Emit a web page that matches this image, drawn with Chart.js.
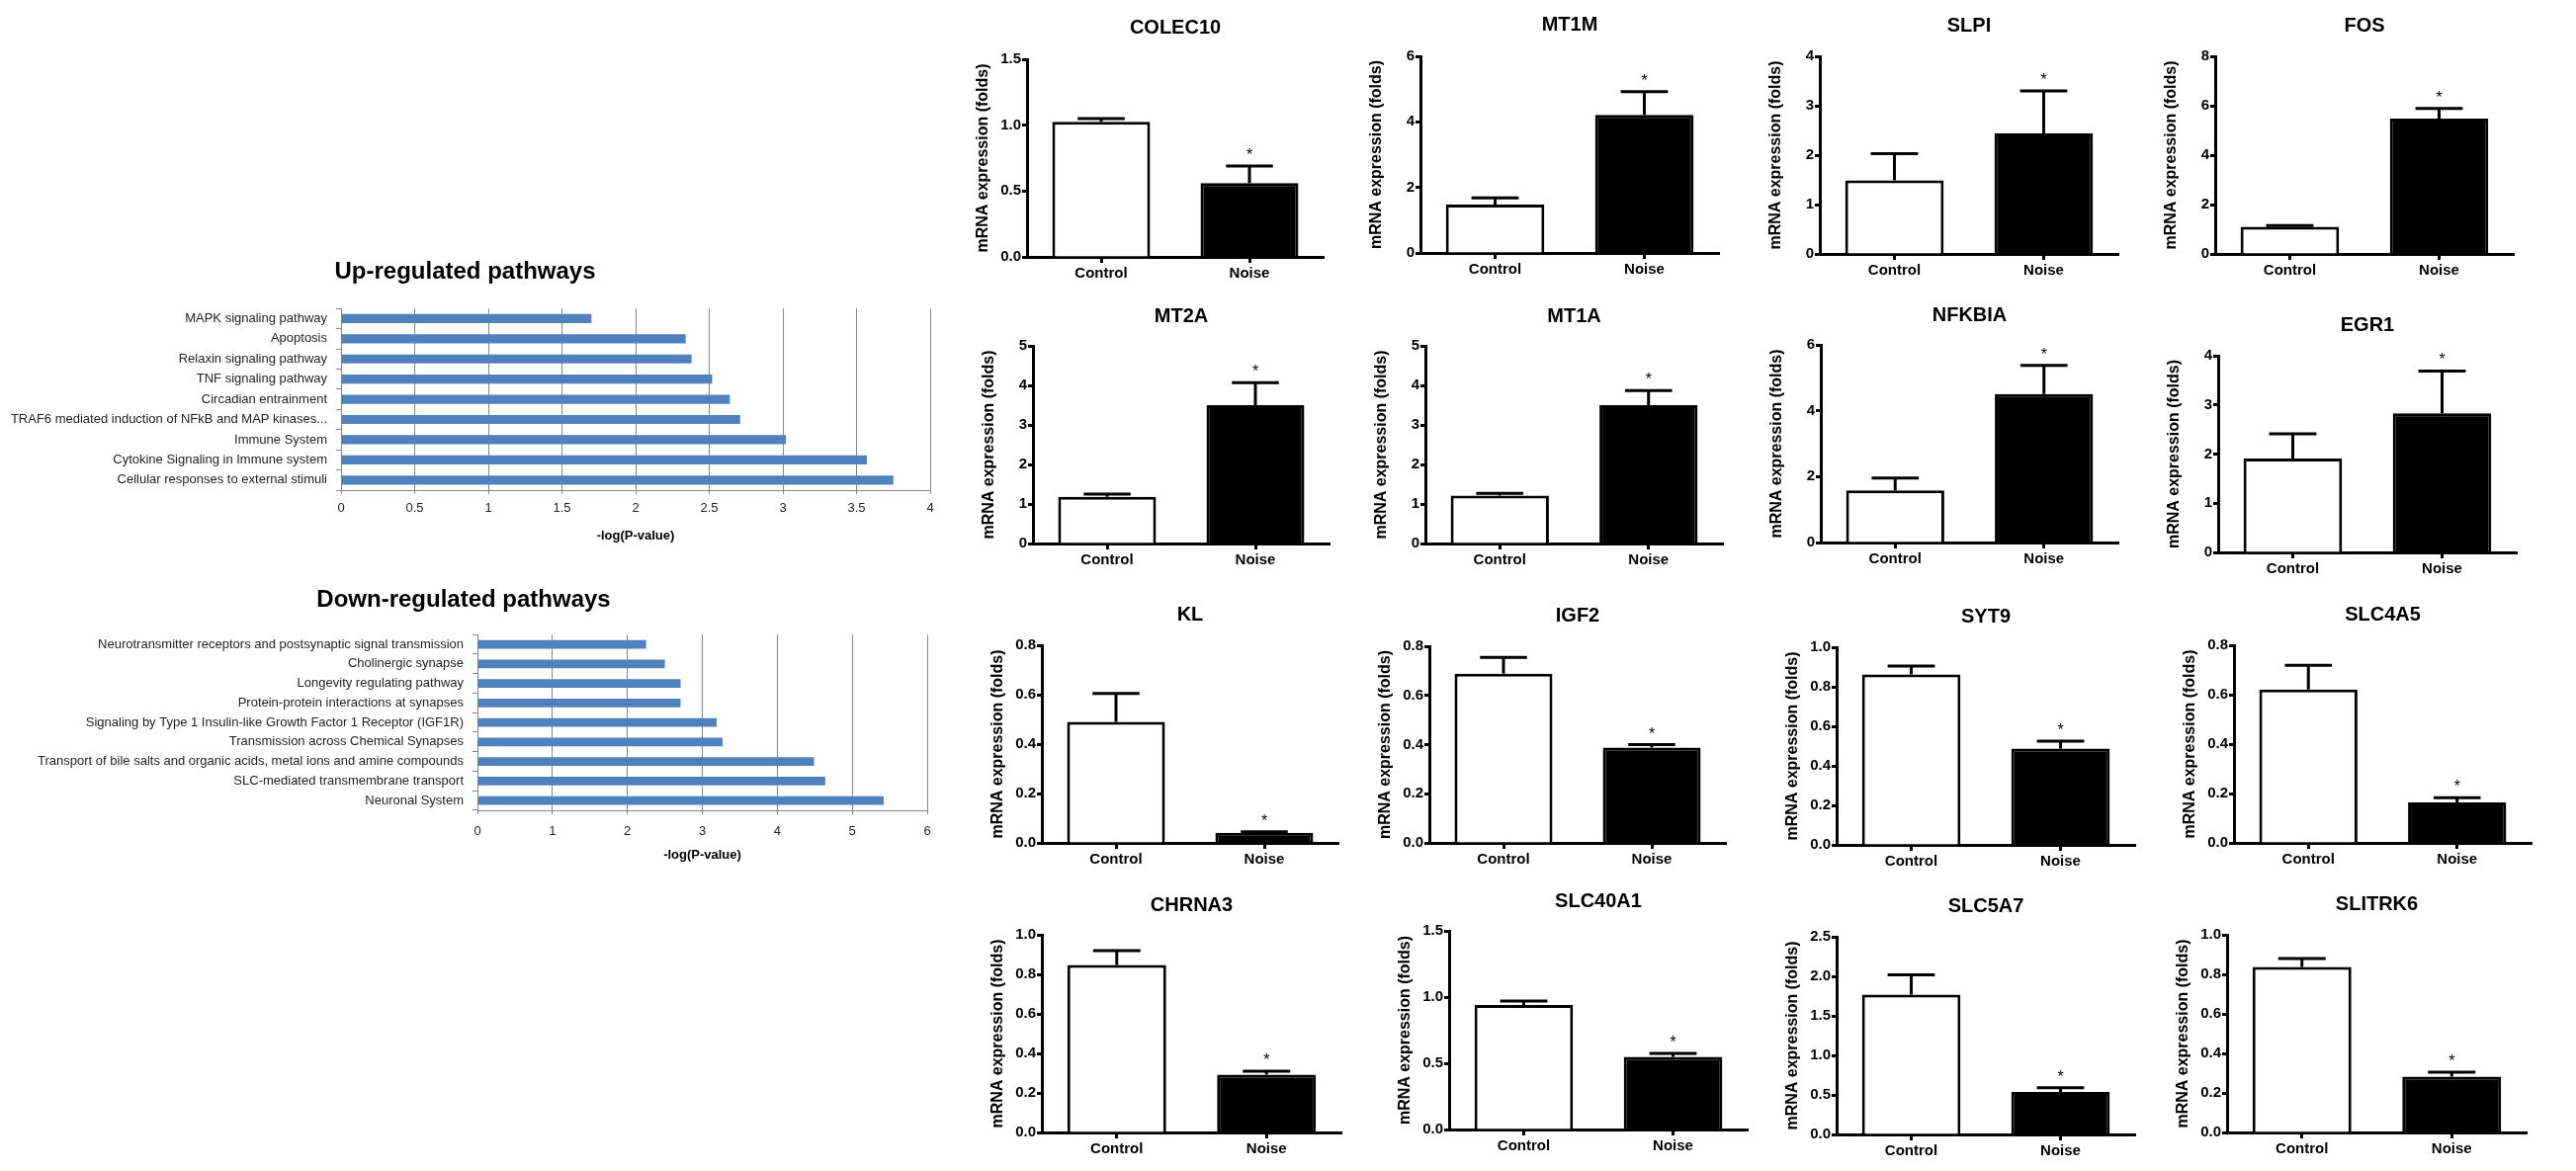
<!DOCTYPE html>
<html><head><meta charset="utf-8">
<script src="https://cdn.jsdelivr.net/npm/chart.js@4.4.0/dist/chart.umd.min.js"></script>
<style>
html,body{margin:0;padding:0;background:#fff;width:2606px;height:1185px;overflow:hidden;}
body{position:relative}
canvas{position:absolute}
</style></head><body>
<script>
// ===== Pathway enrichment data =====
const upPathways = ['MAPK signaling pathway','Apoptosis','Relaxin signaling pathway','TNF signaling pathway','Circadian entrainment','TRAF6 mediated induction of NFkB and MAP kinases...','Immune System','Cytokine Signaling in Immune system','Cellular responses to external stimuli'];
const upValues = [1.70, 2.34, 2.38, 2.52, 2.64, 2.71, 3.02, 3.57, 3.75];
const downPathways = ['Neurotransmitter receptors and postsynaptic signal transmission','Cholinergic synapse','Longevity regulating pathway','Protein-protein interactions at synapses','Signaling by Type 1 Insulin-like Growth Factor 1 Receptor (IGF1R)','Transmission across Chemical Synapses','Transport of bile salts and organic acids, metal ions and amine compounds','SLC-mediated transmembrane transport','Neuronal System'];
const downValues = [2.25, 2.50, 2.71, 2.71, 3.19, 3.27, 4.49, 4.64, 5.42];
const pathwayTitles = ['Up-regulated pathways', 'Down-regulated pathways'];
const pathwayAxisTitle = '-log(P-value)';
const pathwayAxisMax = [4, 6];
const pathwayAxisStep = [0.5, 1];

// ===== qPCR data =====
const groups = ['Control', 'Noise'];
const genes = ['COLEC10','MT1M','SLPI','FOS','MT2A','MT1A','NFKBIA','EGR1','KL','IGF2','SYT9','SLC4A5','CHRNA3','SLC40A1','SLC5A7','SLITRK6'];
const controlMean = [1.025, 1.48, 1.49, 1.10, 1.18, 1.21, 1.58, 1.91, 0.490, 0.688, 0.863, 0.621, 0.848, 0.940, 1.77, 0.838];
const controlSEM  = [0.025, 0.20, 0.54, 0.05, 0.07, 0.06, 0.38, 0.50, 0.115, 0.067, 0.042, 0.098, 0.072, 0.030, 0.25, 0.042];
const noiseMean   = [0.56, 4.21, 2.44, 5.48, 3.50, 3.50, 4.51, 2.83, 0.041, 0.388, 0.488, 0.164, 0.292, 0.549, 0.536, 0.282];
const noiseSEM    = [0.13, 0.71, 0.86, 0.41, 0.57, 0.37, 0.87, 0.86, 0.004, 0.012, 0.037, 0.019, 0.018, 0.025, 0.054, 0.023];
const noiseMark = '*';
const yAxisMax   = [1.5, 6, 4, 8, 5, 5, 6, 4, 0.8, 0.8, 1.0, 0.8, 1.0, 1.5, 2.5, 1.0];
const yAxisStep  = [0.5, 2, 1, 2, 1, 1, 2, 1, 0.2, 0.2, 0.2, 0.2, 0.2, 0.5, 0.5, 0.2];
const yAxisDecimals = [1, 0, 0, 0, 0, 0, 0, 0, 1, 1, 1, 1, 1, 1, 1, 1];
const yAxisTitle = 'mRNA expression (folds)';

// ===== Layout (positions only) : [yAxisX, plotTop, plotBottom, plotRight, titleY] =====
const panelLayout = [
  [1039, 60, 260, 1339, 28], [1437, 57, 256, 1739, 25], [1841, 57, 257, 2143, 26], [2241, 57, 257, 2543, 26],
  [1045, 350, 550, 1345, 320], [1442, 350, 550, 1743, 320], [1842, 349, 549, 2143, 319], [2244, 360, 559, 2546, 329],
  [1054, 653, 853, 1354, 622], [1446, 654, 853, 1746, 623], [1858, 655, 855, 2160, 624], [2260, 653, 853, 2561, 622],
  [1054, 946, 1146, 1357, 916], [1466, 942, 1143, 1768, 912], [1858, 948, 1148, 2160, 917], [2253, 946, 1146, 2556, 915]
];
// pathway charts: [canvasLeft, canvasTop, width, height, yAxisWidth, xAxisHeight, padRight, titlePadTop, titlePadBottom, tickPad]
const pathwayLayout = [
  [0, 250, 958, 304, 345, 58, 17, 11, 23.4, 7],
  [0, 580, 956, 297, 483, 57, 18, 13, 21.4, 10]
];

const FONT = '"Liberation Sans", Arial, Helvetica, sans-serif';
Chart.defaults.font.family = FONT;
Chart.defaults.color = '#000';

function addCanvas(left, top, w, h) {
  const cv = document.createElement('canvas');
  cv.width = w; cv.height = h;
  cv.style.left = left + 'px'; cv.style.top = top + 'px';
  cv.style.width = w + 'px'; cv.style.height = h + 'px';
  document.body.appendChild(cv);
  return cv;
}

const errorBarPlugin = {
  id: 'errbars',
  afterDatasetsDraw(chart) {
    const ctx = chart.ctx, ys = chart.scales.y;
    chart.data.datasets.forEach((ds, di) => {
      const meta = chart.getDatasetMeta(di);
      meta.data.forEach((bar, j) => {
        const v = ds.data[j], e = ds.errors[j];
        const yTop = ys.getPixelForValue(v), yE = ys.getPixelForValue(v + e);
        const cw = bar.width * 0.48;
        ctx.save();
        ctx.strokeStyle = '#000'; ctx.lineWidth = 3; ctx.lineCap = 'butt';
        ctx.beginPath();
        ctx.moveTo(bar.x, yTop); ctx.lineTo(bar.x, yE);
        ctx.moveTo(bar.x - cw / 2, yE); ctx.lineTo(bar.x + cw / 2, yE);
        ctx.stroke();
        if (ds.marks[j]) {
          ctx.fillStyle = '#000';
          ctx.font = '16px ' + FONT;
          ctx.textAlign = 'center'; ctx.textBaseline = 'alphabetic';
          ctx.fillText(ds.marks[j], bar.x, yE - 6);
        }
        ctx.restore();
      });
    });
  }
};

function makeSmall(i) {
  const [ax, top, bottom, right, ty] = panelLayout[i];
  const yW = 62, xH = 45, padR = 10, titlePT = 4, titleLH = 24;
  const cTop = Math.round(ty - titlePT - titleLH / 2);
  const cLeft = ax - yW;
  const W = right - ax + yW + padR;
  const H = bottom + xH - cTop;
  const titlePB = top - cTop - titlePT - titleLH;
  const cv = addCanvas(cLeft, cTop, W, H);
  const dec = yAxisDecimals[i];
  new Chart(cv, {
    type: 'bar',
    data: {
      labels: groups,
      datasets: [{
        data: [controlMean[i], noiseMean[i]],
        errors: [controlSEM[i], noiseSEM[i]],
        marks: ['', noiseMark],
        backgroundColor: ['#ffffff', '#000000'],
        borderColor: '#000000', borderWidth: 3, borderSkipped: 'bottom',
        barPercentage: 0.66, categoryPercentage: 1
      }]
    },
    options: {
      responsive: false, animation: false, devicePixelRatio: 1,
      layout: { padding: { left: 0, right: padR, top: 0, bottom: 0 } },
      plugins: {
        legend: { display: false }, tooltip: { enabled: false },
        title: { display: true, text: genes[i], fullSize: false, color: '#000',
          font: { family: FONT, size: 20, weight: 'bold', lineHeight: 1.2 },
          padding: { top: titlePT, bottom: titlePB } }
      },
      scales: {
        x: {
          grid: { display: true, drawOnChartArea: false, offset: false, color: '#000', tickColor: '#000', tickWidth: 3, tickLength: 6 },
          border: { color: '#000', width: 3 },
          ticks: { color: '#000', font: { family: FONT, size: 15, weight: 'bold' }, padding: 2 },
          afterFit(s) { s.height = xH; }
        },
        y: {
          min: 0, max: yAxisMax[i],
          ticks: { stepSize: yAxisStep[i], color: '#000', font: { family: FONT, size: 15, weight: 'bold' }, padding: 1,
            callback: v => Number(v).toFixed(dec) },
          grid: { drawOnChartArea: false, color: '#000', tickColor: '#000', tickWidth: 3, tickLength: 5 },
          border: { color: '#000', width: 3 },
          title: { display: true, text: yAxisTitle, color: '#000', font: { family: FONT, size: 16, weight: 'bold', lineHeight: 1.2 }, padding: { top: 8, bottom: 0 } },
          afterFit(s) { s.width = yW; }
        }
      }
    },
    plugins: [errorBarPlugin]
  });
}

function makePathway(k, labels, values) {
  const [l, t, w, h, yW, xH, padR, tpt, tpb, tickPad] = pathwayLayout[k];
  const cv = addCanvas(l, t, w, h);
  new Chart(cv, {
    type: 'bar',
    data: { labels: labels, datasets: [{ data: values, backgroundColor: '#4F81BD', borderWidth: 0, barPercentage: 0.45, categoryPercentage: 1 }] },
    options: {
      indexAxis: 'y', responsive: false, animation: false, devicePixelRatio: 1,
      layout: { padding: { left: 0, right: padR, top: 0, bottom: 0 } },
      plugins: {
        legend: { display: false }, tooltip: { enabled: false },
        title: { display: true, text: pathwayTitles[k], color: '#000',
          font: { family: FONT, size: 24, weight: 'bold', lineHeight: 1.2 },
          padding: { top: tpt, bottom: tpb - 1 } }
      },
      scales: {
        x: {
          min: 0, max: pathwayAxisMax[k],
          ticks: { stepSize: pathwayAxisStep[k], color: '#222', font: { family: FONT, size: 13 }, padding: tickPad,
            callback: v => String(Number(v)) },
          grid: { color: '#868686', lineWidth: 1, tickLength: 4 },
          border: { color: '#868686', width: 1 },
          title: { display: true, text: pathwayAxisTitle, color: '#000', font: { family: FONT, size: 13, weight: 'bold', lineHeight: 1.2 }, padding: { top: 0, bottom: 4 } },
          afterFit(s) { s.height = xH; }
        },
        y: {
          ticks: { color: '#222', font: { family: FONT, size: 13 }, padding: 9, autoSkip: false },
          grid: { drawOnChartArea: false, color: '#868686', tickLength: 5, offset: true },
          border: { color: '#868686', width: 1 },
          afterFit(s) { s.width = yW; }
        }
      }
    }
  });
}

makePathway(0, upPathways, upValues);
makePathway(1, downPathways, downValues);
for (let i = 0; i < genes.length; i++) makeSmall(i);
</script>
</body></html>
